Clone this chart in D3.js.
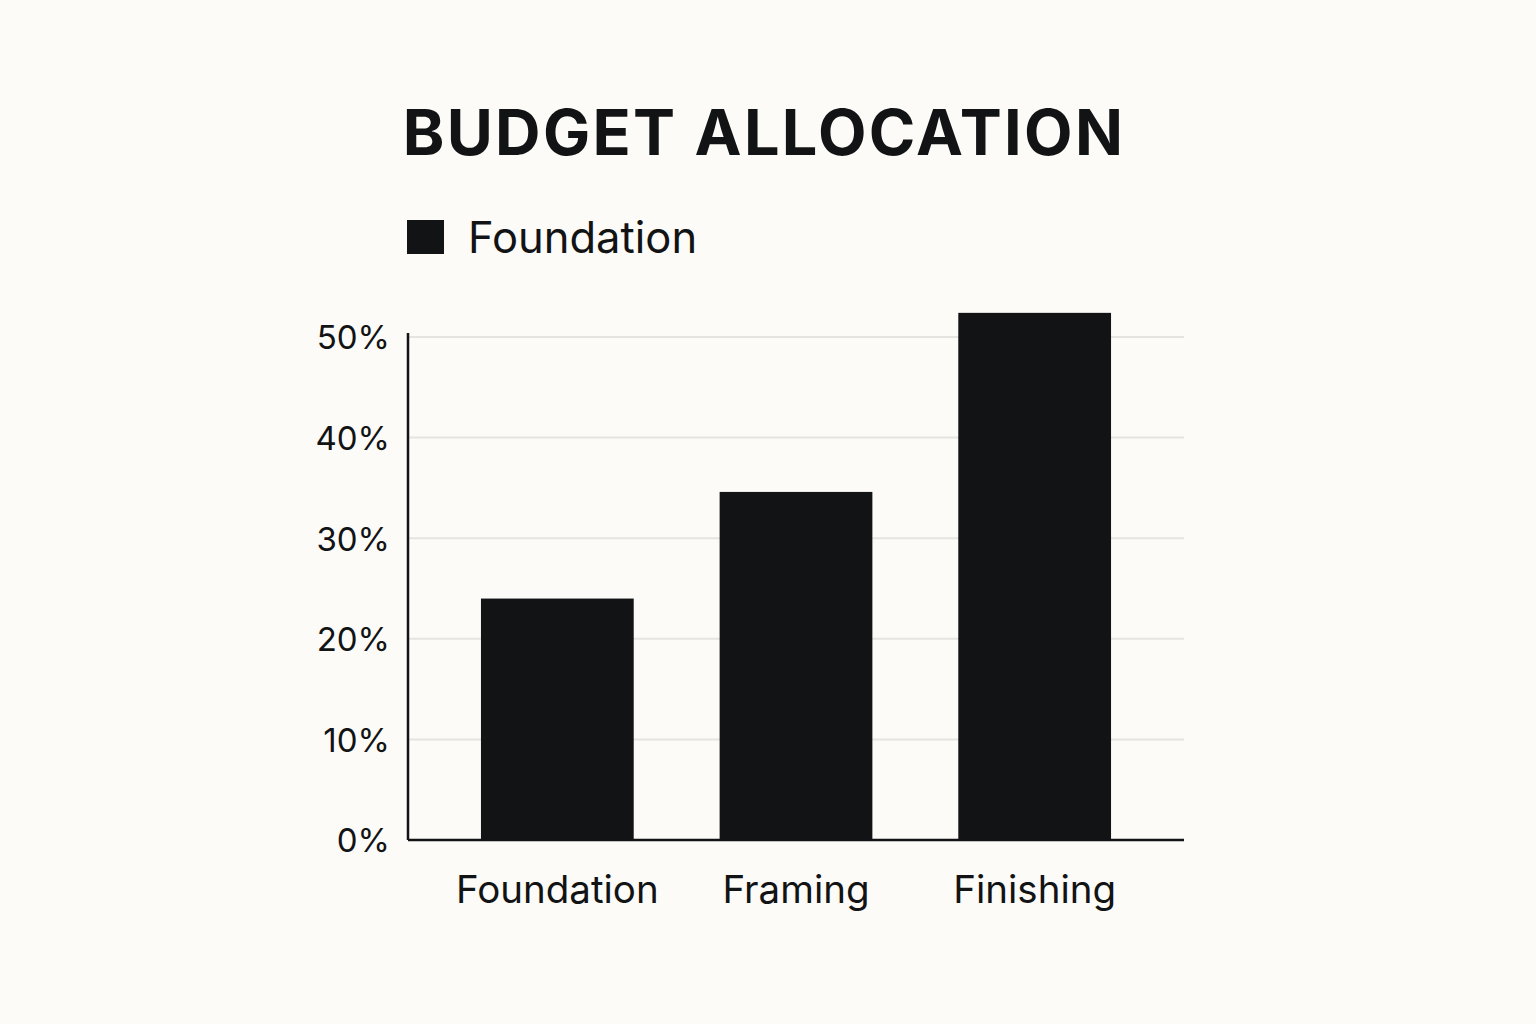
<!DOCTYPE html>
<html><head><meta charset="utf-8">
<script src="https://cdn.jsdelivr.net/npm/d3@7"></script>
<style>
html,body{margin:0;padding:0;background:#fcfbf8;}
svg{display:block;}
</style></head>
<body>
<svg id="chart" width="1536" height="1024"></svg>
<script>
const categories = ["Foundation", "Framing", "Finishing"];
const values = [24, 34.6, 52.4];
const yTicks = [0, 10, 20, 30, 40, 50];
const legendLabels = ["Foundation"];
const titleText = "BUDGET ALLOCATION";

const svg = d3.select("#chart");
const font = "Inter, 'Noto Sans', sans-serif";
const ink = "#121314";
svg.append("rect").attr("width",1536).attr("height",1024).attr("fill","#fcfbf8");

const x0 = 408, x1 = 1184, yTop = 337, yBot = 840;
const y = d3.scaleLinear().domain([0,50]).range([yBot, yTop]);
const x = d3.scaleBand().domain(categories).range([438, 1154]).paddingInner(0.36).paddingOuter(0.18);

// title
svg.append("text").attr("x",764).attr("y",155).attr("text-anchor","middle")
  .attr("font-family",font).attr("font-weight",700).attr("font-size",63)
  .attr("letter-spacing",2.3).attr("fill",ink).text(titleText);

// legend
const lg = svg.append("g");
legendLabels.forEach((l,i)=>{
  lg.append("rect").attr("x",407).attr("y",220).attr("width",37).attr("height",34).attr("fill",ink);
  lg.append("text").attr("x",468).attr("y",253).attr("font-family",font).attr("font-size",43.5)
    .attr("fill",ink).text(l);
});

// gridlines
svg.append("g").selectAll("line").data(yTicks.filter(d=>d>0)).join("line")
  .attr("x1",x0).attr("x2",x1).attr("y1",d=>y(d)).attr("y2",d=>y(d))
  .attr("stroke","#e6e4e0").attr("stroke-width",2);

// bars
svg.append("g").selectAll("rect").data(values).join("rect")
  .attr("x",(d,i)=>x(categories[i])).attr("width",x.bandwidth())
  .attr("y",d=>y(d)).attr("height",d=>yBot-y(d)).attr("fill",ink);

// y axis
const yAxis = d3.axisLeft(y).tickValues(yTicks).tickSize(0).tickPadding(18).tickFormat(d=>d+"%");
const ya = svg.append("g").attr("transform",`translate(${x0},0)`).call(yAxis);
ya.select(".domain").attr("stroke",ink).attr("stroke-width",2.5).attr("d",`M0,${yTop-4}V${yBot}`);
ya.selectAll("text").attr("font-family",font).attr("font-size",33).attr("fill",ink).attr("dy","0.36em");

// x axis
const xAxis = d3.axisBottom(x).tickSize(0).tickPadding(36);
const xa = svg.append("g").attr("transform",`translate(0,${yBot})`).call(xAxis);
xa.select(".domain").attr("stroke",ink).attr("stroke-width",2.5).attr("d",`M${x0},0H${x1}`);
xa.selectAll("text").attr("font-family",font).attr("font-size",38.5).attr("fill",ink);
</script>
</body></html>
